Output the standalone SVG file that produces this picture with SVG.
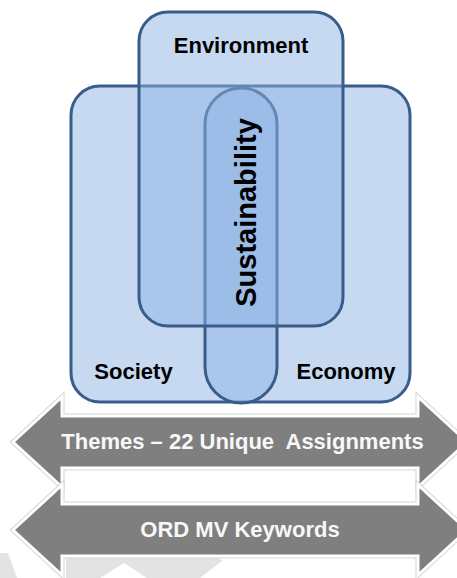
<svg xmlns="http://www.w3.org/2000/svg" width="457" height="578" viewBox="0 0 457 578">
<defs>
<style>
.blob{fill:#8EB4E3;fill-opacity:0.5;stroke:#385D8A;stroke-width:3}
.lbl{font-family:"Liberation Sans",Arial,sans-serif;font-weight:bold;fill:#000;text-anchor:middle}
.alb{font-family:"Liberation Sans",Arial,sans-serif;font-weight:bold;fill:#F8F8F8;text-anchor:middle;font-size:22px}
.glow{fill:none;stroke:#D4D4D4;stroke-width:5;stroke-linejoin:miter}
.arr{fill:#7F7F7F;stroke:#FFFFFF;stroke-width:3;stroke-linejoin:miter}
.wm{fill:#E3E3E3}
</style>
<path id="a1" d="M13,442 L62,397 L62,416 L418,416 L418,397 L467,442 L418,487 L418,468 L62,468 L62,487 Z"/>
<path id="a2" d="M13,530 L62,485 L62,504 L418,504 L418,485 L467,530 L418,575 L418,556 L62,556 L62,575 Z"/>
</defs>
<rect width="457" height="578" fill="#FFFFFF"/>
<g id="watermark">
<polygon class="wm" points="0,553 8,553 17,578 0,578"/>
<polygon class="wm" points="66,557 218,557 222,561 200,578 147,578 124,563 100,578 66,578"/>
</g>
<g id="society-economy">
<rect class="blob" x="71" y="86" width="339" height="316" rx="29" ry="29"/>
<text class="lbl" x="133.5" y="379" font-size="22">Society</text>
<text class="lbl" x="346" y="379" font-size="22">Economy</text>
</g>
<g id="sustainability">
<rect class="blob" x="205" y="88" width="72" height="315" rx="36" ry="36"/>
</g>
<g id="environment">
<rect class="blob" x="139" y="12" width="204" height="314" rx="29" ry="29"/>
<text class="lbl" x="241" y="53" font-size="22">Environment</text>
</g>
<g id="sustainability-label">
<text class="lbl" transform="translate(256,212.5) rotate(-90)" font-size="29">Sustainability</text>
</g>
<g id="arrow-themes">
<use href="#a1" class="glow"/>
<use href="#a1" class="arr"/>
<text class="alb" x="242.5" y="449" xml:space="preserve" style="white-space:pre">Themes – 22 Unique  Assignments</text>
</g>
<g id="arrow-ord">
<use href="#a2" class="glow"/>
<use href="#a2" class="arr"/>
<text class="alb" x="240" y="537">ORD MV Keywords</text>
</g>
<g id="connectors"/>
</svg>
